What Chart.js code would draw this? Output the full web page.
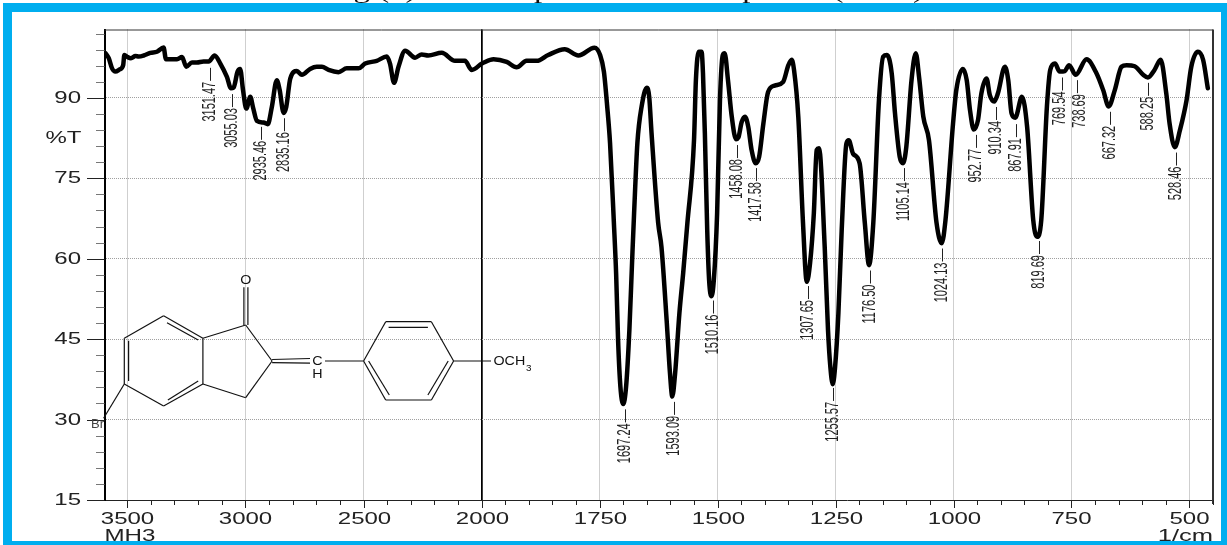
<!DOCTYPE html>
<html>
<head>
<meta charset="utf-8">
<title>MH3 IR spectrum</title>
<style>
	html, body { margin: 0; padding: 0; background: #fff; }
	canvas { display: block; }
</style>
<script src="https://cdn.jsdelivr.net/npm/chart.js@4/dist/chart.umd.js"></script>
</head>
<body>
<canvas id="irChart" width="1227" height="545"></canvas>
<script>
// 3600-2000 part of the spectrum
const leftWavenumbers = [
	3591, 3578, 3564, 3550, 3532, 3517, 3512, 3498, 3484, 3465, 3451, 3430, 3402, 3374, 3346, 3336,
	3317, 3289, 3268, 3250, 3226, 3205, 3177, 3155, 3130, 3106, 3078, 3061, 3050, 3033, 3022, 3010,
	2996, 2979, 2968, 2951, 2923, 2905, 2888, 2867, 2855, 2838, 2827, 2810, 2782, 2761, 2726, 2698,
	2676, 2648, 2606, 2571, 2521, 2493, 2444, 2402, 2388, 2371, 2352, 2324, 2282, 2254, 2226, 2169,
	2113, 2071, 2042, 2000,
];
const leftTransmittance = [
	98.3, 97.4, 95.5, 94.9, 95.3, 96.1, 98.0, 97.6, 97.4, 97.8, 97.7, 97.9, 98.4, 98.6, 99.4, 97.2,
	97.2, 97.2, 97.6, 95.8, 96.6, 96.6, 96.8, 96.8, 97.9, 96.4, 93.9, 91.8, 91.9, 94.9, 95.4, 91.5,
	88.0, 90.2, 88.3, 85.7, 85.4, 85.1, 88.3, 93.3, 91.5, 87.2, 88.3, 93.6, 95.0, 94.3, 95.4, 95.8,
	95.8, 95.2, 94.8, 95.5, 95.5, 96.4, 96.9, 97.7, 96.4, 92.8, 95.8, 98.8, 97.5, 98.1, 97.9, 98.4,
	96.9, 96.9, 95.2, 96.4,
];

// 2000-450 part of the spectrum
const rightWavenumbers = [
	2000, 1975, 1947, 1926, 1905, 1883, 1859, 1824, 1795, 1761, 1749, 1741, 1734, 1728, 1720, 1715,
	1711, 1706, 1700, 1694, 1687, 1681, 1677, 1670, 1661, 1650, 1645, 1640, 1626, 1619, 1608, 1601,
	1596, 1590, 1581, 1573, 1564, 1550, 1546, 1540, 1534, 1531, 1527, 1522, 1518, 1513, 1508, 1501,
	1495, 1489, 1485, 1478, 1470, 1461, 1456, 1449, 1442, 1435, 1428, 1419, 1412, 1403, 1393, 1379,
	1361, 1350, 1343, 1338, 1329, 1319, 1311, 1304, 1296, 1290, 1285, 1273, 1266, 1261, 1256, 1251,
	1244, 1237, 1227, 1222, 1213, 1199, 1188, 1179, 1170, 1158, 1149, 1141, 1131, 1124, 1114, 1107,
	1100, 1089, 1080, 1073, 1064, 1052, 1036, 1025, 1017, 1001, 994, 980, 972, 965, 957, 948,
	941, 930, 923, 914, 906, 891, 884, 877, 869, 855, 844, 831, 823, 814, 802, 795,
	785, 775, 764, 755, 741, 718, 697, 683, 671, 658, 644, 633, 616, 598, 588, 574,
	561, 549, 542, 531, 520, 506, 496, 482, 471, 461,
];
const rightTransmittance = [
	96.4, 97.2, 96.7, 95.7, 96.9, 96.9, 98.0, 99.05, 97.9, 99.35, 98.0, 94.9, 88.4, 81.6, 67.0, 57.0,
	45.0, 36.1, 32.9, 36.1, 46.7, 60.0, 68.5, 81.6, 88.4, 91.9, 90.2, 83.4, 66.7, 62.2, 48.5, 38.7,
	34.3, 38.7, 49.8, 57.3, 66.7, 82.1, 93.3, 98.6, 98.6, 94.6, 83.4, 65.3, 56.0, 53.0, 56.0, 68.5,
	89.6, 98.0, 98.3, 93.3, 86.5, 82.3, 82.6, 85.5, 86.5, 84.6, 80.3, 77.8, 79.0, 85.2, 91.1, 92.3,
	93.0, 96.1, 97.1, 95.2, 86.5, 66.7, 55.7, 59.2, 68.5, 80.3, 80.6, 62.2, 46.7, 39.8, 36.6, 39.8,
	49.8, 65.3, 81.5, 82.1, 79.6, 77.8, 66.7, 58.8, 66.7, 89.6, 97.7, 98.0, 94.6, 87.1, 79.0, 77.8,
	80.9, 93.3, 98.3, 93.9, 86.5, 82.1, 66.7, 62.9, 67.2, 85.2, 91.5, 95.4, 93.3, 87.7, 84.1, 85.9,
	90.8, 93.6, 90.5, 89.3, 90.8, 95.8, 93.3, 87.1, 86.3, 90.2, 84.6, 67.2, 64.1, 67.2, 88.4, 95.2,
	96.4, 94.9, 95.0, 96.1, 94.3, 97.2, 94.6, 91.5, 88.4, 91.5, 95.8, 96.1, 95.9, 94.3, 93.8, 95.2,
	97.1, 90.8, 85.2, 80.8, 84.0, 89.6, 95.8, 98.6, 97.1, 91.8,
];

const yTickLabels = [15, 30, 45, 60, 75, 90];
const leftTickLabels = [3500, 3000, 2500, 2000];
const rightTickLabels = [1750, 1500, 1250, 1000, 750, 500];

// peak labels, peakTops is the %T where the little leader line starts
const peakLabels = [
	"3151.47", "3055.03", "2935.46", "2835.16", "1697.24", "1593.09", "1510.16", "1458.08",
	"1417.58", "1307.65", "1255.57", "1176.50", "1105.14", "1024.13", "952.77", "910.34",
	"867.91", "819.69", "769.54", "738.69", "667.32", "588.25", "528.46",
];
const peakTops = [
	95.6, 90.7, 84.6, 86.2, 31.9, 33.3, 52.2, 81.2,
	76.9, 54.9, 35.9, 57.8, 76.9, 61.9, 83.1, 88.3,
	85.1, 63.3, 93.8, 93.3, 87.4, 92.8, 79.8,
];

const titleText = "Fig.(3): FT-IR spectrum of compound (MH3)";

// structure drawing, plain page pixels
const bonds = [
	[124.3, 338.3, 163.6, 315.7], [163.6, 315.7, 202.9, 338.3], [202.9, 338.3, 202.9, 384],
	[202.9, 384, 163.6, 406], [163.6, 406, 124.3, 384], [124.3, 384, 124.3, 338.3],
	[167, 322.7, 198.2, 340], [128.6, 340.7, 128.6, 381], [167.9, 400, 198.2, 381],
	[202.9, 338.3, 245.7, 325], [245.7, 325, 272.1, 361], [272.1, 361, 245.7, 397.7], [245.7, 397.7, 202.9, 384],
	[243.9, 325, 243.9, 287.3], [247.9, 325, 247.9, 287.3],
	[272.1, 359.5, 310, 358.5], [272.1, 362.7, 310, 363.2],
	[325, 361, 363.6, 361],
	[363.6, 361, 385.7, 321.7], [385.7, 321.7, 431.4, 321.7], [431.4, 321.7, 453.6, 361],
	[453.6, 361, 431.4, 400], [431.4, 400, 385.7, 400], [385.7, 400, 363.6, 361],
	[388.6, 327.3, 427.9, 327.3], [368.6, 361, 389.3, 395], [448.2, 361, 427.9, 395],
	[453.6, 361, 491, 361], [124.3, 384, 103.6, 418.3],
];

const ink = "#000";
const gridGrey = "#a0a0a0";
const frameBlue = "#00AEEF";

// the scan is wider than it is tall, so all the text gets pulled sideways
function wideText(ctx, text, x, y, stretch, align, baseline) {
	ctx.save();
	ctx.translate(x, y);
	ctx.scale(stretch, 1);
	ctx.textAlign = align;
	ctx.textBaseline = baseline;
	ctx.fillText(text, 0, 0);
	ctx.restore();
}

function drawTicksAndLabels(chart) {
	const ctx = chart.ctx;
	const area = chart.chartArea;
	const y = chart.scales.y;
	ctx.save();
	ctx.fillStyle = "#222";
	ctx.font = "16px 'Liberation Sans'";

	y.ticks.forEach((t) => {
		const py = Math.round(y.getPixelForValue(t.value)) + 0.5;
		const major = yTickLabels.includes(t.value);
		ctx.strokeStyle = major ? "#222" : "#777";
		ctx.lineWidth = 1;
		ctx.beginPath();
		ctx.moveTo(major ? 87 : 96, py);
		ctx.lineTo(area.left, py);
		ctx.stroke();
		if (major) wideText(ctx, String(t.value), 81, py, 1.5, "right", "middle");
	});

	[chart.scales.xLeft, chart.scales.xRight].forEach((s, n) => {
		const labels = n === 0 ? leftTickLabels : rightTickLabels;
		s.ticks.forEach((t) => {
			const px = Math.round(s.getPixelForValue(t.value)) + 0.5;
			const major = labels.includes(t.value);
			ctx.strokeStyle = "#222";
			ctx.beginPath();
			ctx.moveTo(px, area.bottom);
			ctx.lineTo(px, area.bottom + (major ? 8 : 5));
			ctx.stroke();
			if (major) wideText(ctx, String(t.value), px, 524, 1.5, "center", "alphabetic");
		});
	});

	wideText(ctx, "%T", 81.5, 139, 1.5, "right", "middle");
	ctx.font = "17px 'Liberation Sans'";
	wideText(ctx, "MH3", 104.5, 541, 1.42, "left", "alphabetic");
	wideText(ctx, "1/cm", 1213, 541, 1.5, "right", "alphabetic");
	ctx.restore();
}

function drawPeakLabels(chart) {
	const ctx = chart.ctx;
	const y = chart.scales.y;
	ctx.save();
	ctx.fillStyle = "#222";
	ctx.strokeStyle = "#222";
	ctx.lineWidth = 1;
	ctx.font = "11px 'Liberation Sans'";
	peakLabels.forEach((label, i) => {
		const value = parseFloat(label);
		const scale = value > 2000 ? chart.scales.xLeft : chart.scales.xRight;
		const px = Math.round(scale.getPixelForValue(value)) + 0.5;
		const top = y.getPixelForValue(peakTops[i]);
		ctx.beginPath();
		ctx.moveTo(px, top);
		ctx.lineTo(px, top + 13);
		ctx.stroke();

		// these two sit close together, the original pushes them apart
		let textX = px;
		if (label === "769.54") textX -= 2;
		if (label === "738.69") textX += 3;
		ctx.save();
		ctx.translate(textX, top + 14);
		ctx.scale(1.6, 1);
		ctx.rotate(-Math.PI / 2);
		ctx.textAlign = "right";
		ctx.textBaseline = "middle";
		ctx.fillText(label, 0, 0);
		ctx.restore();
	});
	ctx.restore();
}

function drawStructure(chart) {
	const ctx = chart.ctx;
	ctx.save();
	ctx.strokeStyle = "#111";
	ctx.lineWidth = 1.2;
	bonds.forEach((b) => {
		ctx.beginPath();
		ctx.moveTo(b[0], b[1]);
		ctx.lineTo(b[2], b[3]);
		ctx.stroke();
	});
	ctx.fillStyle = "#111";
	ctx.font = "13px 'Liberation Sans'";
	wideText(ctx, "O", 245.7, 280, 1.1, "center", "middle");
	wideText(ctx, "C", 317.5, 361.5, 1.1, "center", "middle");
	wideText(ctx, "H", 317.5, 374.5, 1.1, "center", "middle");
	wideText(ctx, "OCH", 493.5, 361.5, 1.1, "left", "middle");
	ctx.font = "9px 'Liberation Sans'";
	wideText(ctx, "3", 526, 369, 1.1, "left", "middle");
	ctx.font = "13px 'Liberation Sans'";
	ctx.fillStyle = "#444";
	wideText(ctx, "Br", 104, 424, 1, "right", "middle");
	ctx.restore();
}

const pagePlugin = {
	id: "pagePlugin",
	afterDraw(chart) {
		const ctx = chart.ctx;
		const area = chart.chartArea;

		// frame of the plot, left and bottom come from the axes
		ctx.save();
		ctx.strokeStyle = "#333";
		ctx.lineWidth = 1;
		ctx.beginPath();
		ctx.moveTo(area.left, area.top + 0.5);
		ctx.lineTo(area.right, area.top + 0.5);
		ctx.stroke();
		ctx.lineWidth = 2;
		ctx.beginPath();
		ctx.moveTo(area.right, area.top);
		ctx.lineTo(area.right, area.bottom + 4);
		ctx.stroke();
		ctx.restore();

		drawTicksAndLabels(chart);
		drawStructure(chart);
		drawPeakLabels(chart);

		// caption is cut off by the blue frame, only descenders are left
		ctx.save();
		ctx.fillStyle = "#111";
		ctx.font = "24px 'Liberation Serif'";
		wideText(ctx, titleText, 625, -2, 1.37, "center", "alphabetic");
		ctx.fillStyle = frameBlue;
		ctx.fillRect(3, 3, 1224, 9);
		ctx.fillRect(3, 3, 9, 542);
		ctx.fillRect(1221, 3, 6, 542);
		ctx.fillRect(3, 541, 1224, 4);
		ctx.restore();
	},
};

function xScale(min, max, step, weight, labels) {
	const major = (c) => c.tick && labels.includes(c.tick.value);
	return {
		type: "linear",
		position: "bottom",
		stack: "wavenumber",
		stackWeight: weight,
		reverse: true,
		min: min,
		max: max,
		afterFit(scale) {
			scale.height = 45;
		},
		// the range does not end on a whole step, so chart.js would shift the ticks
		afterBuildTicks(scale) {
			const ticks = [];
			for (let v = Math.ceil(min / step) * step; v <= max; v += step) {
				ticks.push({ value: v });
			}
			scale.ticks = ticks;
		},
		ticks: { display: false },
		grid: {
			drawTicks: false,
			color: (c) => (c.tick && c.tick.value === 2000 ? "#000" : major(c) ? gridGrey : "transparent"),
			lineWidth: (c) => (c.tick && c.tick.value === 2000 ? 1.5 : 1),
		},
		border: {
			color: "#222",
			width: 1,
			dash: (c) => (c.tick && c.tick.value === 2000 ? [] : [1, 1]),
		},
	};
}

const chart = new Chart(document.getElementById("irChart"), {
	type: "line",
	data: {
		datasets: [
			{
				xAxisID: "xLeft",
				yAxisID: "y",
				data: leftWavenumbers.map((w, i) => ({ x: w, y: leftTransmittance[i] })),
			},
			{
				xAxisID: "xRight",
				yAxisID: "y",
				data: rightWavenumbers.map((w, i) => ({ x: w, y: rightTransmittance[i] })),
			},
		],
	},
	options: {
		responsive: false,
		animation: false,
		layout: { padding: { left: 0, top: 29.5, right: 14, bottom: 0 } },
		elements: {
			point: { radius: 0 },
			line: {
				borderColor: ink,
				borderWidth: 4.5,
				borderJoinStyle: "round",
				borderCapStyle: "round",
				cubicInterpolationMode: "monotone",
				fill: false,
			},
		},
		plugins: {
			legend: { display: false },
			tooltip: { enabled: false },
			title: { display: false },
		},
		scales: {
			xLeft: xScale(2000, 3596, 100, 377.2, leftTickLabels),
			xRight: xScale(450, 2000, 50, 731.3, rightTickLabels),
			y: {
				type: "linear",
				position: "left",
				min: 15,
				max: 102.75,
				afterFit(scale) {
					scale.width = 104.5;
				},
				ticks: { display: false, stepSize: 3, includeBounds: false },
				grid: {
					drawTicks: false,
					color: (c) => (c.tick && yTickLabels.includes(c.tick.value) ? gridGrey : "transparent"),
				},
				border: { color: "#000", width: 2, dash: [1, 1] },
			},
		},
	},
	plugins: [pagePlugin],
});
</script>
</body>
</html>
